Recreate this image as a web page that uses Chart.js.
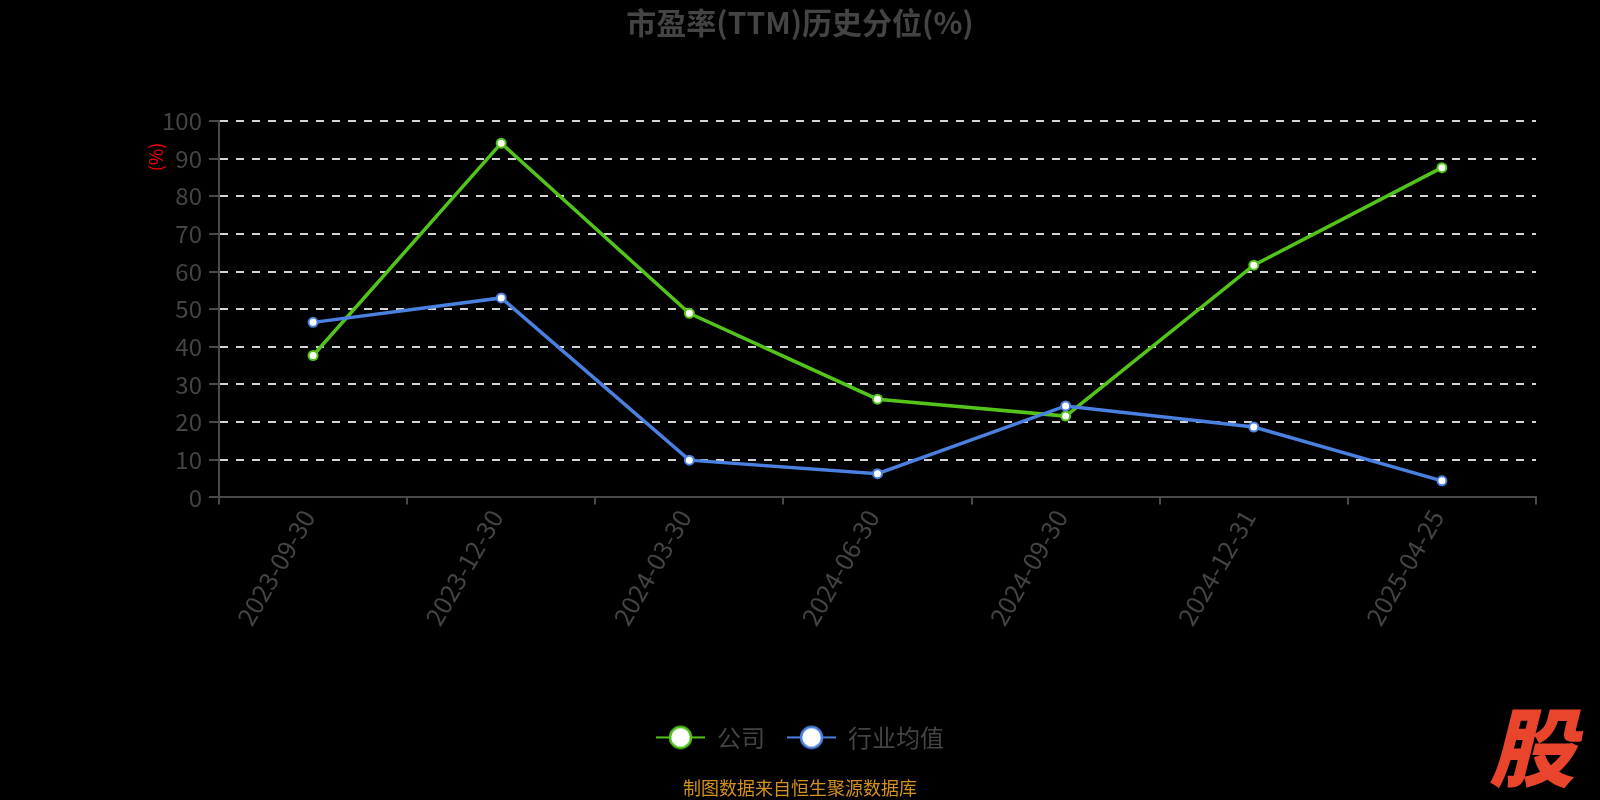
<!DOCTYPE html>
<html>
<head>
<meta charset="utf-8">
<script src="https://cdn.jsdelivr.net/npm/chart.js@4.4.1/dist/chart.umd.min.js"></script>
<style>
html,body{margin:0;padding:0;background:#000;}
#wrap{width:1600px;height:800px;position:relative;}
</style>
</head>
<body>
<div id="wrap"><canvas id="c" width="1600" height="800"></canvas></div>
<script>
// ---- data ----
const categories = ['2023-09-30','2023-12-30','2024-03-30','2024-06-30','2024-09-30','2024-12-31','2025-04-25'];
const companyValues = [37.7, 94.1, 48.9, 26.1, 21.6, 61.7, 87.6];
const industryValues = [46.5, 53.0, 9.9, 6.3, 24.3, 18.7, 4.4];
const seriesNames = ['公司', '行业均值'];
const titleText = '市盈率(TTM)历史分位(%)';
const yUnitText = '(%)';
const sourceText = '制图数据来自恒生聚源数据库';
const logoText = '股';

// ---- styles ----
const FONT = '"Noto Sans CJK SC", "Noto Sans", sans-serif';
const GREEN = '#52c41a';
const BLUE = '#4a80e0';
const GREY = '#444444';

function makeMarker(color) {
  const cv = document.createElement('canvas');
  cv.width = 49; cv.height = 26;
  const g = cv.getContext('2d');
  g.strokeStyle = color;
  g.lineWidth = 2;
  g.beginPath(); g.moveTo(0, 13); g.lineTo(49, 13); g.stroke();
  g.beginPath(); g.arc(24.5, 13, 10.5, 0, Math.PI * 2);
  g.fillStyle = '#ffffff'; g.fill();
  g.lineWidth = 2.5; g.strokeStyle = color; g.stroke();
  return cv;
}
const markers = [makeMarker(GREEN), makeMarker(BLUE)];

const decor = {
  id: 'decor',
  beforeDraw(chart) {
    const ctx = chart.ctx;
    ctx.save();
    ctx.fillStyle = '#000';
    ctx.fillRect(0, 0, chart.width, chart.height);
    ctx.restore();
  },
  afterDraw(chart) {
    const ctx = chart.ctx;
    ctx.save();
    // y-axis unit
    ctx.translate(156, 157);
    ctx.rotate(-Math.PI / 2);
    ctx.fillStyle = '#ff0000';
    ctx.font = '18px ' + FONT;
    ctx.textAlign = 'center';
    ctx.textBaseline = 'middle';
    ctx.fillText(yUnitText, 0, 0);
    ctx.restore();
    // logo
    ctx.save();
    ctx.fillStyle = '#e8452c';
    ctx.font = 'italic 900 86px ' + FONT;
    ctx.textAlign = 'center';
    ctx.textBaseline = 'middle';
    ctx.fillText(logoText, 1532, 747);
    ctx.restore();
  }
};

new Chart(document.getElementById('c'), {
  type: 'line',
  data: {
    labels: categories,
    datasets: [
      {
        label: seriesNames[0],
        data: companyValues,
        borderColor: GREEN,
        backgroundColor: GREEN,
        borderWidth: 3.5,
        tension: 0,
        pointRadius: 4.5,
        pointHoverRadius: 4.5,
        pointBackgroundColor: '#ffffff',
        pointBorderColor: GREEN,
        pointBorderWidth: 2,
        order: 1
      },
      {
        label: seriesNames[1],
        data: industryValues,
        borderColor: BLUE,
        backgroundColor: BLUE,
        borderWidth: 3.5,
        tension: 0,
        pointRadius: 4.5,
        pointHoverRadius: 4.5,
        pointBackgroundColor: '#ffffff',
        pointBorderColor: BLUE,
        pointBorderWidth: 2,
        order: 0
      }
    ]
  },
  options: {
    responsive: false,
    animation: false,
    devicePixelRatio: 1,
    layout: { padding: { left: 64, right: 64, top: 0, bottom: 0 } },
    plugins: {
      tooltip: { enabled: false },
      title: {
        display: true,
        text: titleText,
        color: GREY,
        font: { family: FONT, size: 30, weight: 'bold' },
        padding: { top: 5, bottom: 80 }
      },
      subtitle: {
        display: true,
        position: 'bottom',
        text: sourceText,
        color: '#d4921c',
        font: { family: FONT, size: 18, weight: 'normal' },
        padding: { top: 18, bottom: 1 }
      },
      legend: {
        display: true,
        position: 'bottom',
        labels: {
          usePointStyle: true,
          pointStyleWidth: 49,
          color: GREY,
          font: { family: FONT, size: 24 },
          padding: 22,
          generateLabels: () => seriesNames.map((name, i) => ({
            text: name,
            pointStyle: markers[i],
            fillStyle: '#fff',
            strokeStyle: i === 0 ? GREEN : BLUE,
            lineWidth: 0,
            hidden: false,
            datasetIndex: i,
            fontColor: GREY
          }))
        }
      }
    },
    scales: {
      x: {
        offset: true,
        grid: {
          offset: true,
          drawOnChartArea: false,
          drawTicks: true,
          tickLength: 7,
          tickColor: '#4a4a4a',
          tickWidth: 2,
          lineWidth: 2
        },
        border: { display: true, color: '#4a4a4a', width: 2 },
        ticks: {
          color: GREY,
          font: { family: FONT, size: 25 },
          minRotation: 60,
          maxRotation: 60,
          autoSkip: false,
          padding: 0,
          labelOffset: -5
        },
        afterFit: (s) => { s.height = 206; }
      },
      y: {
        min: 0,
        max: 100,
        ticks: {
          stepSize: 10,
          color: GREY,
          font: { family: FONT, size: 24 },
          padding: 7
        },
        grid: {
          drawTicks: true,
          tickLength: 10,
          tickColor: '#4a4a4a',
          tickWidth: 2,
          tickBorderDash: [],
          lineWidth: 2,
          color: (ctx) => (ctx.tick && ctx.tick.value === 0) ? 'rgba(0,0,0,0)' : '#d4d4d4'
        },
        border: { display: true, color: '#4a4a4a', width: 2, dash: [8, 8] },
        afterFit: (s) => { s.width = 155; }
      }
    }
  },
  plugins: [decor]
});
</script>
</body>
</html>
